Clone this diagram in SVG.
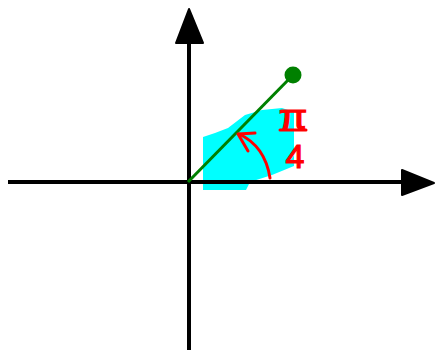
<svg xmlns="http://www.w3.org/2000/svg" width="436" height="350" viewBox="0 0 436 350">
<style>
.axis{stroke:#000;stroke-width:4;fill:none}
.red{stroke:#ff0000;stroke-width:3;fill:none;stroke-linecap:round;stroke-linejoin:round}
.lbl{font-family:"Liberation Sans",Arial,sans-serif;fill:#ff0000;stroke:#ff0000;stroke-width:1.2}
</style>
<rect width="436" height="350" fill="#fff"/>
<g id="highlight">
<polygon points="203,137 215,133 228,128 245,115 262,110 282,108 294,112 294,166 272,175 250,182 246,190 203,190" fill="#00ffff"/>
</g>
<g id="axes">
<line class="axis" x1="189" y1="40" x2="189" y2="350"/>
<polygon points="189,9 203,43 176,43" fill="#000" stroke="#000" stroke-width="2" stroke-linejoin="round"/>
<line class="axis" x1="8" y1="182" x2="405" y2="182"/>
<polygon points="434,183 402,170 402,195" fill="#000" stroke="#000" stroke-width="2" stroke-linejoin="round"/>
</g>
<g id="vector">
<line x1="188" y1="182" x2="293" y2="75" stroke="#008000" stroke-width="3"/>
<circle cx="293" cy="75" r="8.5" fill="#008000"/>
</g>
<g id="angle">
<path class="red" d="M270,178 Q265,146 239,134"/>
<path class="red" d="M255,133 L238,134 L248,151"/>
<text class="lbl" x="293" y="129" font-size="36" text-anchor="middle" transform="translate(293,129) scale(1.15,1) translate(-293,-129)">π</text>
<line class="red" x1="280" y1="130" x2="306" y2="130"/>
<text class="lbl" x="295" y="168" font-size="34" text-anchor="middle">4</text>
</g>
</svg>
